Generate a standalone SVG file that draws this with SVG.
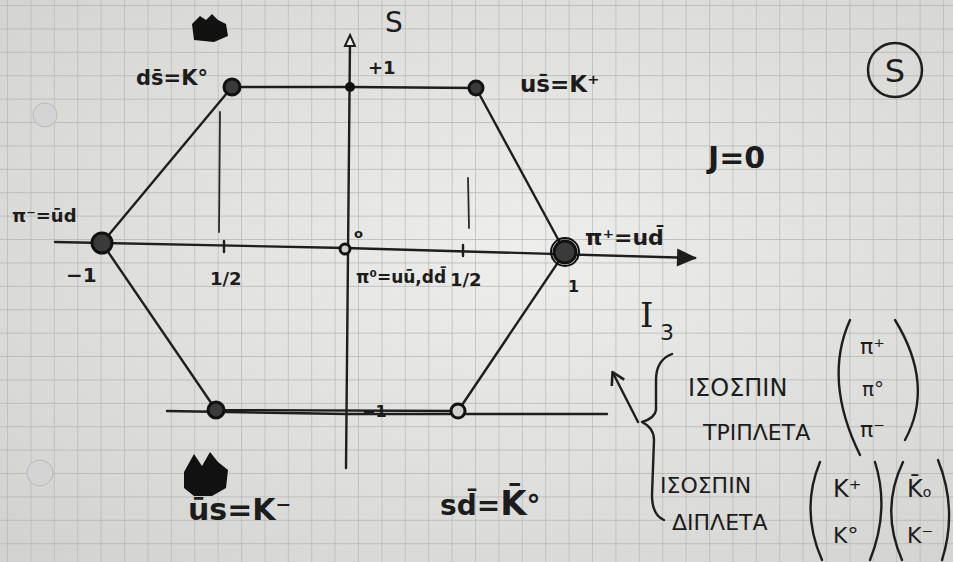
<svg xmlns="http://www.w3.org/2000/svg" width="953" height="562" viewBox="0 0 953 562">
<defs>
<pattern id="grid" width="23.4" height="23.4" patternUnits="userSpaceOnUse" x="8" y="6">
<path d="M23.4 0V23.4M0 23.4H23.4" fill="none" stroke="#b4b4b2" stroke-width="1.3"/>
</pattern>
<radialGradient id="light" cx="0.55" cy="0.45" r="0.75">
<stop offset="0" stop-color="#eeeeec"/>
<stop offset="1" stop-color="#d2d2cf"/>
</radialGradient>
<marker id="open" markerWidth="14" markerHeight="14" refX="7" refY="7" orient="auto" markerUnits="userSpaceOnUse">
<path d="M1 2L12 7L1 12Z" fill="#f0f0ee" stroke="#1e1e1e" stroke-width="2"/>
</marker>
<marker id="solid" markerWidth="24" markerHeight="24" refX="20" refY="12" orient="auto" markerUnits="userSpaceOnUse">
<path d="M2 3L22 12L2 21Z" fill="#1e1e1e"/>
</marker>
<marker id="small" markerWidth="18" markerHeight="18" refX="14" refY="9" orient="auto" markerUnits="userSpaceOnUse">
<path d="M3 2L15 9L3 16" fill="none" stroke="#1e1e1e" stroke-width="2.6" stroke-linejoin="round"/>
</marker>
</defs>
<style>
.ink{fill:none;stroke:#1e1e1e;stroke-width:2.4;stroke-linecap:round;stroke-linejoin:round}
.thin{fill:none;stroke:#2a2a2a;stroke-width:1.8;stroke-linecap:round}
.pt{fill:#3a3a3a;stroke:#111;stroke-width:3}
.t{font-family:"DejaVu Sans",sans-serif;fill:#1c1c1c;font-weight:bold}
.g{font-family:"DejaVu Sans",sans-serif;fill:#1c1c1c}
</style>
<rect width="953" height="562" fill="url(#light)"/>
<rect width="953" height="562" fill="url(#grid)"/>
<circle cx="45" cy="115" r="12" fill="#d4d4d4" stroke="#b8b8b8"/>
<circle cx="40" cy="473" r="13" fill="#d4d4d4" stroke="#b8b8b8"/>

<g id="connectors">
<path class="ink" d="M55 242 L345 248 L695 258" marker-end="url(#solid)"/>
<path class="ink" d="M346 468 L350 40" marker-end="url(#open)"/>
<path class="ink" d="M102 243 L232 87 L350 87 L476 88 L565 252 L458 411 L216 410 L102 243"/>
<path class="ink" d="M167 411 L347 414 L607 414"/>
<path class="thin" d="M220 112 L219 232"/>
<path class="thin" d="M468 178 L469 228"/>
<path class="ink" d="M224 241 L224 252 M463 245 L463 256"/>
<path class="ink" d="M638 422 L613 373" marker-end="url(#small)"/>
</g>

<g id="nodes">
<g id="n-k0"><circle class="pt" cx="232" cy="87" r="8"/></g>
<g id="n-kplus"><circle class="pt" cx="476" cy="88" r="7"/></g>
<g id="n-piplus"><circle class="pt" cx="565" cy="252" r="11"/><circle fill="none" stroke="#111" stroke-width="2" cx="565" cy="252" r="14"/></g>
<g id="n-k0bar"><circle class="pt" cx="458" cy="411" r="7" style="fill:#cfcfcc"/></g>
<g id="n-kminus"><circle class="pt" cx="216" cy="410" r="8"/></g>
<g id="n-piminus"><circle class="pt" cx="102" cy="243" r="10"/></g>
<g id="n-pi0"><circle class="pt" cx="345" cy="249" r="5" style="fill:#cfcfcc"/></g>
<g id="n-top"><circle cx="350" cy="87" r="5" fill="#111"/></g>
</g>

<g id="labels">
<path d="M192 24 L200 16 L206 20 L212 14 L218 20 L226 24 L228 36 L214 42 L194 40 Z" fill="#111"/>
<text class="t" x="136" y="85" font-size="21">ds̄=K°</text>
<text class="g" x="385" y="32" font-size="28">S</text>
<text class="t" x="368" y="74" font-size="18">+1</text>
<text class="t" x="520" y="92" font-size="23">us̄=K⁺</text>
<circle cx="895" cy="70" r="27" fill="none" stroke="#1e1e1e" stroke-width="2.5"/>
<text class="g" x="895" y="82" font-size="32" text-anchor="middle">S</text>
<text class="t" x="708" y="168" font-size="30">J=0</text>
<text class="t" x="585" y="245" font-size="22">π⁺=ud̄</text>
<text class="t" x="12" y="222" font-size="18">π⁻=ūd</text>
<text class="t" x="354" y="238" font-size="13">o</text>
<text class="t" x="66" y="282" font-size="20">−1</text>
<text class="t" x="210" y="285" font-size="18">1/2</text>
<text class="t" x="356" y="283" font-size="17">π⁰=uū,dd̄</text>
<text class="t" x="450" y="286" font-size="18">1/2</text>
<text class="t" x="568" y="292" font-size="16">1</text>
<text class="t" x="362" y="417" font-size="16">−1</text>
<text x="640" y="327" font-size="34" font-family="DejaVu Serif, serif" fill="#1c1c1c">I</text>
<text class="g" x="660" y="340" font-size="22">3</text>
<path class="ink" d="M672 354 Q656 360 656 380 L656 410 Q655 418 642 422 Q654 428 654 440 L652 495 Q652 515 664 520"/>
<text class="g" x="688" y="396" font-size="24">ΙΣΟΣΠΙΝ</text>
<text class="g" x="703" y="440" font-size="22">ΤΡΙΠΛΕΤΑ</text>
<path class="ink" d="M850 320 Q823 380 860 455"/>
<path class="ink" d="M895 320 Q935 385 905 440"/>
<text class="g" x="860" y="354" font-size="22">π⁺</text>
<text class="g" x="862" y="396" font-size="20">π°</text>
<text class="g" x="860" y="437" font-size="22">π⁻</text>
<text class="g" x="660" y="493" font-size="22">ΙΣΟΣΠΙΝ</text>
<text class="g" x="672" y="530" font-size="22">ΔΙΠΛΕΤΑ</text>
<path class="ink" d="M820 462 Q800 510 822 560"/>
<path class="ink" d="M875 462 Q890 510 870 560"/>
<text class="g" x="833" y="497" font-size="24">K⁺</text>
<text class="g" x="833" y="543" font-size="22">K°</text>
<path class="ink" d="M903 462 Q880 510 902 560"/>
<path class="ink" d="M938 460 Q958 510 942 560"/>
<text class="g" x="907" y="497" font-size="24">K̄<tspan font-size="14">o</tspan></text>
<text class="g" x="907" y="543" font-size="22">K⁻</text>
<path d="M184 472 L194 454 L202 466 L210 452 L218 462 L228 470 L226 488 L212 496 L194 496 L184 488 Z" fill="#111"/>
<text class="t" x="188" y="520" font-size="30">ūs=K⁻</text>
<text class="t" x="440" y="515" font-size="28">sd̄=<tspan font-size="34">K̄</tspan>°</text>
</g>
</svg>
